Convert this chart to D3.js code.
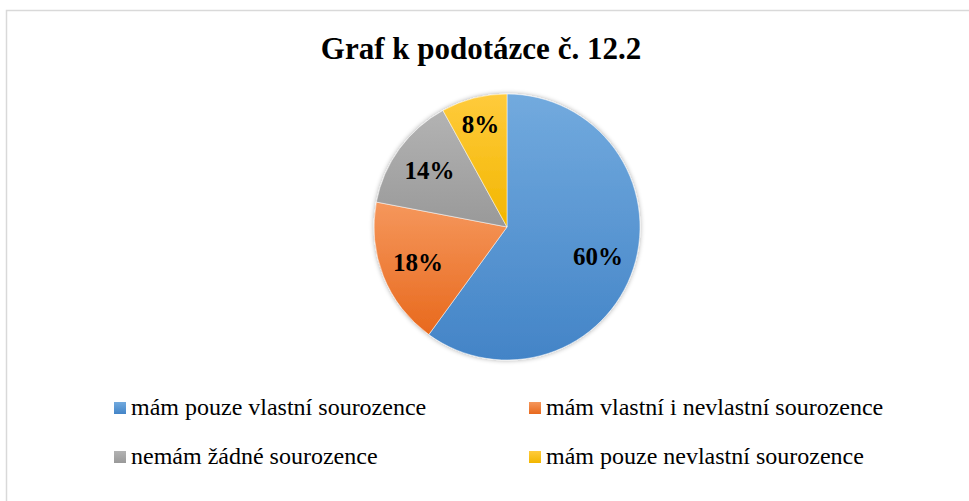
<!DOCTYPE html>
<html>
<head>
<meta charset="utf-8">
<script src="https://cdn.jsdelivr.net/npm/d3@7"></script>
<style>
  html, body { margin: 0; padding: 0; background: #fff; }
  svg { display: block; }
</style>
</head>
<body>
<div id="chart"></div>
<script>
// Graf k podotázce č. 12.2 – pie chart

const title = "Graf k podotázce č. 12.2";
const categories = [
  "mám pouze vlastní sourozence",
  "mám vlastní i nevlastní sourozence",
  "nemám žádné sourozence",
  "mám pouze nevlastní sourozence"
];
const values = [60, 18, 14, 8];
const colorsTop = ["#72aade", "#f5975c", "#b3b3b3", "#ffcb3c"];
const colorsBottom = ["#4384c7", "#e8691d", "#999999", "#f2b600"];

const width = 969;
const height = 501;
const cx = 507, cy = 227, r = 133;
const serif = "'Liberation Serif', 'Times New Roman', serif";

const svg = d3.select("#chart")
  .append("svg")
  .attr("width", width)
  .attr("height", height);

const defs = svg.append("defs");

// gradients, one per category
categories.forEach((c, i) => {
  const g = defs.append("linearGradient")
    .attr("id", "grad" + i)
    .attr("x1", 0).attr("y1", 0).attr("x2", 0).attr("y2", 1);
  g.append("stop").attr("offset", "0%").attr("stop-color", colorsTop[i]);
  g.append("stop").attr("offset", "100%").attr("stop-color", colorsBottom[i]);
});

// soft shadow round the pie
const f = defs.append("filter").attr("id", "shadow")
  .attr("x", "-10%").attr("y", "-10%").attr("width", "120%").attr("height", "120%");
f.append("feGaussianBlur").attr("in", "SourceAlpha").attr("stdDeviation", 2.5).attr("result", "b");
f.append("feComponentTransfer").attr("in", "b").attr("result", "s")
  .append("feFuncA").attr("type", "linear").attr("slope", 0.35);
const m = f.append("feMerge");
m.append("feMergeNode").attr("in", "s");
m.append("feMergeNode").attr("in", "SourceGraphic");

// chart frame
svg.append("rect")
  .attr("x", 6.5).attr("y", 10.5)
  .attr("width", width + 20).attr("height", height + 20)
  .attr("fill", "#fff")
  .attr("stroke", "#d9d9d9")
  .attr("stroke-width", 1.5);

// title
svg.append("text")
  .attr("x", 481).attr("y", 59)
  .attr("text-anchor", "middle")
  .attr("font-family", serif)
  .attr("font-weight", "bold")
  .attr("font-size", 31)
  .attr("fill", "#000")
  .text(title);

// pie
const pie = d3.pie().sort(null).value(d => d);
const arcs = pie(values);
const arc = d3.arc().innerRadius(0).outerRadius(r);

const g = svg.append("g").attr("transform", `translate(${cx},${cy})`);

g.append("g").attr("filter", "url(#shadow)")
  .selectAll("path")
  .data(arcs)
  .enter()
  .append("path")
  .attr("d", arc)
  .attr("fill", (d, i) => `url(#grad${i})`)
  .attr("stroke", "#fff")
  .attr("stroke-width", 0.5);

const total = d3.sum(values);
g.selectAll("text.lbl")
  .data(arcs)
  .enter()
  .append("text")
  .attr("class", "lbl")
  .attr("transform", d => {
    const lr = d.value / total < 0.1 ? r * 0.8 : r * 0.72;
    const c = d3.arc().innerRadius(lr).outerRadius(lr).centroid(d);
    return `translate(${c[0]},${c[1]})`;
  })
  .attr("dy", "0.35em")
  .attr("text-anchor", "middle")
  .attr("font-family", serif)
  .attr("font-weight", "bold")
  .attr("font-size", 25)
  .attr("fill", "#000")
  .text(d => Math.round(d.value / total * 100) + "%");

// legend, two columns
const colX = [114, 529];
const rowY = [402, 451];
const legend = svg.append("g");
categories.forEach((c, i) => {
  const x = colX[i % 2];
  const y = rowY[Math.floor(i / 2)];
  legend.append("rect")
    .attr("x", x).attr("y", y)
    .attr("width", 12).attr("height", 12)
    .attr("fill", `url(#grad${i})`);
  legend.append("text")
    .attr("x", x + 17).attr("y", y + 13)
    .attr("font-family", serif)
    .attr("font-size", 24)
    .attr("fill", "#000")
    .text(c);
});
</script>
</body>
</html>
